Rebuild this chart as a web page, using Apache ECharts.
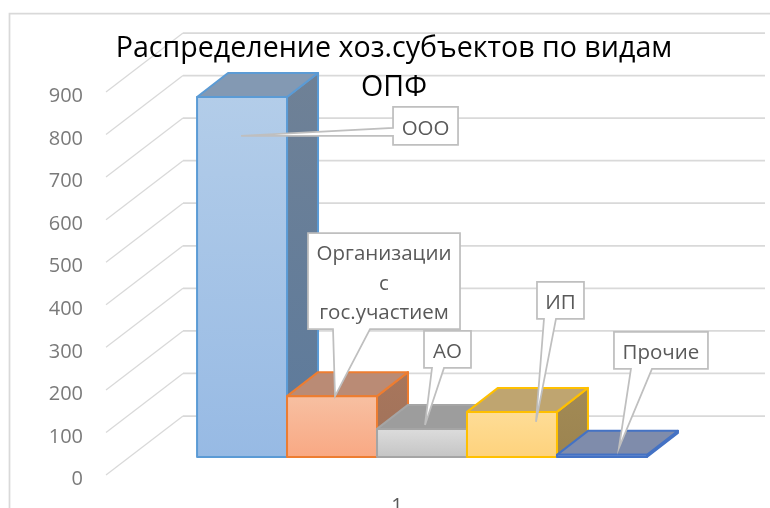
<!DOCTYPE html>
<html>
<head>
<meta charset="utf-8">
<style>
  html, body { margin: 0; padding: 0; background: #fff; }
  #chart { width: 770px; height: 508px; }
</style>
<script src="https://cdn.jsdelivr.net/npm/echarts@6/dist/echarts.min.js"></script>
</head>
<body>
<div id="chart"></div>
<script>
// данные
const categories = ['1'];
const tickValues = [0, 100, 200, 300, 400, 500, 600, 700, 800, 900];
const seriesNames = ['ООО', 'Организации\nс\nгос.участием', 'АО', 'ИП', 'Прочие'];
const seriesValues = [846, 143, 66, 106, 5];

// оформление столбцов
const barStyles = [
  { stroke: '#5b9bd5', front: ['#b3cde9', '#97bae4'], top: '#8399b3', side: ['#6f8196', '#5c7a9c'] },
  { stroke: '#ed7d31', front: ['#f7c0a2', '#f9a883'], top: '#ba8b75', side: ['#a8765c', '#a0725a'] },
  { stroke: '#a5a5a5', front: ['#dddddd', '#c4c4c4'], top: '#9d9d9d', side: ['#8a8a8a', '#808080'] },
  { stroke: '#ffc000', front: ['#fedd97', '#fed27c'], top: '#bfa570', side: ['#a28a55', '#9c8450'] },
  { stroke: '#4472c4', front: ['#a5b8e0', '#8fa6d8'], top: '#7f8cab', side: ['#5c6c90', '#5c6c90'] }
];

// выноски: смещение острия от верха столбца, рамка относительно острия
const callouts = [
  { tip: [-1, 39], box: [152, -29, 65, 38], side: 'left', wedge: [21, 29] },
  { tip: [3, 0], box: [-27, -163, 152, 96], side: 'bottom', wedge: [25, 62] },
  { tip: [3, -4], box: [-1, -94, 47, 37], side: 'bottom', wedge: [8, 20] },
  { tip: [24, 10], box: [1, -140, 47, 37], side: 'bottom', wedge: [7, 19] },
  { tip: [17, -7], box: [-5, -116, 94, 37], side: 'bottom', wedge: [17, 38] }
];

// псевдо-3D: глубина стенки и глубина столбца
const wallDepth = [77, 59];
const barDepth = [31, 24];
const barPlane = [25, 18]; // где стоит передняя грань столбцов
const barShare = 0.1546; // ширина столбца как доля ширины категории

const chart = echarts.init(document.getElementById('chart'));

function vGrad(colors) {
  return new echarts.graphic.LinearGradient(0, 0, 0, 1, [
    { offset: 0, color: colors[0] },
    { offset: 1, color: colors[1] }
  ]);
}

function barRect(params, api, index, value) {
  const grid = params.coordSys;
  const w = grid.width * barShare;
  const center = api.coord([0, 0])[0] + barPlane[0];
  const x = center - w * seriesValues.length / 2 + w * index;
  const yTop = api.coord([0, value])[1] - barPlane[1];
  const yBottom = api.coord([0, 0])[1] - barPlane[1];
  return { x, w, yTop, yBottom };
}

function renderWall(params, api) {
  const grid = params.coordSys;
  const p = api.coord([0, api.value(0)]);
  const backY = p[1] - wallDepth[1];
  return {
    type: 'group',
    children: [
      {
        type: 'line',
        shape: { x1: grid.x, y1: p[1], x2: grid.x + wallDepth[0], y2: backY },
        style: { stroke: '#d9d9d9', lineWidth: 1.25 }
      },
      {
        type: 'line',
        shape: { x1: grid.x + wallDepth[0], y1: backY, x2: grid.x + grid.width + wallDepth[0], y2: backY },
        style: { stroke: '#d9d9d9', lineWidth: 1.75 }
      }
    ]
  };
}

function makeBarRenderer(index) {
  return function (params, api) {
    const b = barRect(params, api, index, api.value(1));
    const s = barStyles[index];
    const dx = barDepth[0];
    const dy = barDepth[1];
    const right = b.x + b.w;
    const edge = { stroke: s.stroke, lineWidth: 2, lineJoin: 'round' };
    return {
      type: 'group',
      children: [
        {
          type: 'polygon',
          shape: { points: [[right, b.yTop], [right + dx, b.yTop - dy], [right + dx, b.yBottom - dy], [right, b.yBottom]] },
          style: Object.assign({ fill: vGrad(s.side) }, edge)
        },
        {
          type: 'polygon',
          shape: { points: [[b.x, b.yTop], [b.x + dx, b.yTop - dy], [right + dx, b.yTop - dy], [right, b.yTop]] },
          style: Object.assign({ fill: s.top }, edge)
        },
        {
          type: 'rect',
          shape: { x: b.x, y: b.yTop, width: b.w, height: b.yBottom - b.yTop },
          style: Object.assign({ fill: vGrad(s.front) }, edge)
        }
      ]
    };
  };
}

function renderCallout(params, api) {
  const i = params.dataIndex;
  const c = callouts[i];
  const b = barRect(params, api, i, api.value(1));
  const tipX = b.x + b.w / 2 + c.tip[0];
  const tipY = b.yTop + c.tip[1];
  const x = tipX + c.box[0];
  const y = tipY + c.box[1];
  const w = c.box[2];
  const h = c.box[3];
  let points;
  if (c.side === 'left') {
    points = [[x, y], [x + w, y], [x + w, y + h], [x, y + h], [x, y + c.wedge[1]], [tipX, tipY], [x, y + c.wedge[0]]];
  } else {
    points = [[x, y], [x + w, y], [x + w, y + h], [x + c.wedge[1], y + h], [tipX, tipY], [x + c.wedge[0], y + h], [x, y + h]];
  }
  return {
    type: 'group',
    children: [
      {
        type: 'polygon',
        shape: { points },
        style: { fill: '#ffffff', stroke: '#bfbfbf', lineWidth: 1.75 }
      },
      {
        type: 'text',
        style: {
          text: seriesNames[i],
          x: x + w / 2,
          y: y + h / 2 + 3,
          align: 'center',
          verticalAlign: 'middle',
          fill: '#595959',
          fontFamily: 'Open Sans',
          fontSize: 20.5,
          lineHeight: 29.5
        }
      }
    ]
  };
}

const series = [
  {
    type: 'custom',
    name: 'walls',
    silent: true,
    clip: false,
    z: 1,
    coordinateSystem: 'cartesian2d',
    data: tickValues.map(v => [v]),
    encode: { y: 0 },
    renderItem: renderWall
  }
];
seriesValues.forEach((v, i) => {
  series.push({
    type: 'custom',
    name: seriesNames[i],
    silent: true,
    clip: false,
    z: 2 + i,
    data: [[0, v]],
    encode: { x: 0, y: 1 },
    renderItem: makeBarRenderer(i)
  });
});
series.push({
  type: 'custom',
  name: 'callouts',
  silent: true,
  clip: false,
  z: 20,
  data: seriesValues.map(v => [0, v]),
  encode: { x: 0, y: 1 },
  renderItem: renderCallout
});

chart.setOption({
  animation: false,
  backgroundColor: '#ffffff',
  title: {
    text: 'Распределение хоз.субъектов по видам\nОПФ',
    left: 389,
    top: 25,
    textAlign: 'center',
    z: 10,
    textStyle: {
      fontFamily: 'Open Sans',
      fontSize: 28.6,
      fontWeight: 'normal',
      color: '#000000',
      lineHeight: 38.5
    }
  },
  graphic: [
    {
      type: 'polyline',
      silent: true,
      shape: { points: [[9.5, 508], [9.5, 13.5], [770, 13.5]] },
      style: { stroke: '#d9d9d9', lineWidth: 1.75, fill: 'none' }
    }
  ],
  grid: { left: 106, right: 82, top: 92, bottom: 33, outerBoundsMode: 'none' },
  xAxis: {
    type: 'category',
    data: categories,
    axisLine: { show: false },
    axisTick: { show: false },
    splitLine: { show: false },
    axisLabel: { color: '#595959', fontFamily: 'Open Sans', fontSize: 20, margin: 21 }
  },
  yAxis: {
    type: 'value',
    min: tickValues[0],
    max: tickValues[tickValues.length - 1],
    interval: 100,
    axisLine: { show: false },
    axisTick: { show: false },
    splitLine: { show: false },
    axisLabel: { color: '#7a7a7a', fontFamily: 'Open Sans', fontSize: 20, margin: 23, verticalAlign: 'top', lineHeight: 9 }
  },
  series
});
</script>
</body>
</html>
